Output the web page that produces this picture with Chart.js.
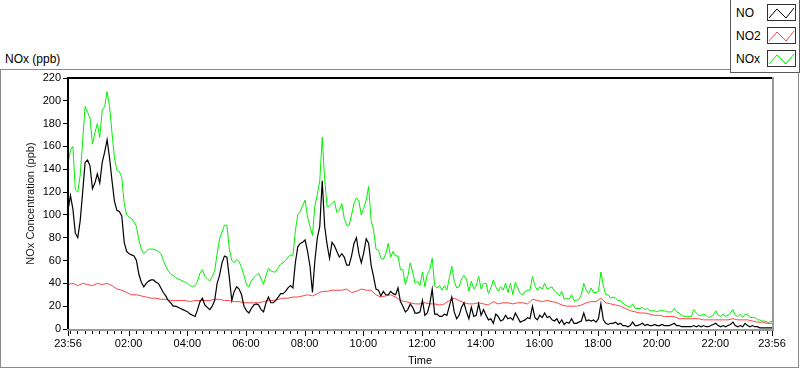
<!DOCTYPE html>
<html>
<head>
<meta charset="utf-8">
<title>NOx (ppb)</title>
<script src="https://cdn.jsdelivr.net/npm/chart.js@4"></script>
<style>
  html, body { margin: 0; padding: 0; background: #fff; }
  body { position: relative; width: 800px; height: 369px; overflow: hidden;
         font-family: "Liberation Sans", Arial, sans-serif; color: #000; }
  #panel { position: absolute; left: 0; top: 69px; width: 799px; height: 299px;
           box-sizing: border-box; border: 1px solid #8a8a8a; }
  #chart { position: absolute; left: 0; top: 0; }
  #plotTitle { position: absolute; left: 5px; top: 52px; font-size: 12px; line-height: 14px; }
  #legend { position: absolute; left: 730px; top: -1px; width: 70px; height: 74px;
            box-sizing: border-box; border: 1px solid #5a5a5a; background: #fff; }
  .row { position: absolute; left: 5px; font-size: 12px; line-height: 14px; }
  .icon { position: absolute; left: 36px; width: 29px; height: 17px; box-sizing: border-box;
          border: 1px solid #333; background: #fff; }
  .icon svg { display: block; }
</style>
</head>
<body>
<div id="panel"></div>
<div id="plotTitle">NOx (ppb)</div>
<canvas id="chart" width="800" height="369"></canvas>
<div id="legend"></div>

<script>
// Time axis is in minutes after 23:56
const START_LABEL = '23:56';
const NO_STEP_MIN = 5;     // NO and NOx read every 5 minutes
const NO2_STEP_MIN = 10;   // NO2 is smooth, read every 10 minutes

// NO (ppb), every 5 min
const noValues = [
  104,117,105,84,80,95,120,146,148,143,
  123,128,136,128,146,155,166,150,130,112,
  104,103,99,76,68,66,65,64,60,48,
  41,37,40,42,43,43,41,40,36,32,
  29,25,23,20,20,19,18,17,16,15,
  13,12,11,17,24,27,21,19,17,20,
  25,40,47,58,64,63,45,25,33,37,
  35,30,20,16,14,18,21,22,21,17,
  15,23,28,23,23,25,28,31,31,33,
  36,38,36,58,72,75,76,78,68,55,
  32,60,80,90,130,90,74,62,76,73,
  68,63,66,63,56,56,64,75,80,66,
  58,67,79,75,56,46,35,34,29,33,
  30,30,33,31,30,36,24,20,15,17,
  22,19,14,14,15,25,12,14,22,35,
  13,13,11,11,13,12,20,28,15,9,
  12,19,23,15,9,19,11,12,22,12,
  17,12,8,9,5,13,11,7,8,12,
  9,10,8,14,10,6,7,8,10,9,
  20,10,8,12,10,14,10,11,8,7,
  9,5,8,4,6,5,9,5,5,6,
  7,14,7,8,7,8,6,9,22,8,
  5,4,5,5,6,4,5,3,3,2,
  3,6,3,3,4,5,3,4,3,3,
  4,3,3,4,3,3,3,4,5,3,
  3,2,2,2,2,2,3,2,3,2,
  3,2,2,3,4,5,3,2,3,2,
  3,4,6,3,2,3,2,5,3,2,
  3,2,2,1,1,1,1,1,1
];

// NO2 (ppb), every 10 min
const no2Values = [
  39,40,38,40,39,38,40,39,40,38,35,34,32,30,30,29,28,27,27,26,26,25,25,25,25,24,25,25,25,25,
  26,26,25,25,24,24,23,23,23,23,24,25,25,26,27,27,28,28,29,30,29,31,33,33,34,34,34,35,
  32,33,35,34,34,30,28,29,30,28,25,24,23,22,22,23,22,22,21,22,25,27,25,23,22,22,23,22,21,
  24,22,23,23,22,23,23,22,26,25,24,25,24,23,21,20,20,20,21,23,24,24,27,23,22,21,20,18,16,
  15,14,14,13,12,12,11,11,11,9,9,9,9,9,8,8,8,8,8,8,9,8,8,8,7,6,6,5,5
];

// NOx (ppb), every 5 min
const noxValues = [
  145,157,160,122,120,135,165,195,190,185,
  162,172,180,168,192,195,208,195,172,150,
  139,138,133,110,100,98,97,94,90,78,
  70,66,68,70,70,70,69,68,66,60,
  55,51,48,47,45,44,43,42,41,40,
  38,37,38,42,49,52,46,44,42,46,
  51,66,79,85,91,91,70,60,58,61,
  59,54,47,39,37,42,45,47,49,44,
  39,47,53,51,50,50,54,57,58,60,
  63,65,64,86,100,103,108,113,98,90,
  82,108,118,130,168,131,107,108,110,112,
  102,104,110,97,91,91,100,110,115,112,
  100,106,113,125,95,87,70,69,62,61,
  66,75,63,68,64,64,52,52,39,46,
  58,50,40,42,38,50,37,48,52,62,
  38,36,38,34,38,34,45,55,42,36,
  37,44,47,44,33,42,35,38,46,35,
  40,40,31,36,43,37,33,37,34,40,
  32,40,30,41,36,31,30,33,34,34,
  46,38,34,37,35,40,35,36,37,33,
  32,29,33,26,27,26,30,25,25,26,
  30,40,34,31,36,32,32,33,50,38,
  30,30,27,28,27,25,25,23,21,20,
  19,22,18,18,18,19,17,18,16,16,
  16,15,16,16,16,15,15,15,18,15,
  14,12,11,11,11,11,17,14,12,12,
  13,12,10,11,12,16,12,11,13,11,
  12,14,17,12,11,13,10,13,13,10,
  10,10,8,8,7,7,6,6,7
];

// Major x ticks (minutes after 23:56) and their labels
const majorTickMinutes = [0, 124, 244, 364, 484, 604, 724, 844, 964, 1084, 1204, 1324, 1440];
const majorTickLabels = ['23:56', '02:00', '04:00', '06:00', '08:00', '10:00', '12:00',
                         '14:00', '16:00', '18:00', '20:00', '22:00', '23:56'];
const MINOR_STEP = 15;   // minor ticks every quarter hour from 00:00
const FIRST_MINOR = 4;

const yTickStep = 20;
const Y_MAX = 220;

const series = [
  { label: 'NO',  values: noValues,  step: NO_STEP_MIN,  color: '#000000', width: 1.2 },
  { label: 'NO2', values: no2Values, step: NO2_STEP_MIN, color: '#ff4444', width: 1 },
  { label: 'NOx', values: noxValues, step: NO_STEP_MIN,  color: '#00f000', width: 1 }
];

const AXIS_FONT = { family: '"Liberation Sans", Arial, sans-serif', size: 11 };

/**
 * Build the HTML legend in the top-right corner
 */
function buildLegend() {
  const legend = document.getElementById('legend');
  const rowTops = [6, 29, 52];
  const iconTops = [4, 27, 50];
  series.forEach((s, i) => {
    const row = document.createElement('div');
    row.className = 'row';
    row.style.top = rowTops[i] + 'px';
    row.textContent = s.label;
    legend.appendChild(row);

    const icon = document.createElement('div');
    icon.className = 'icon';
    icon.style.top = iconTops[i] + 'px';
    icon.innerHTML = '<svg width="27" height="15"><polyline points="1,13 9,4 18,13 26,3" ' +
      'fill="none" stroke="' + s.color + '" stroke-width="1"/></svg>';
    legend.appendChild(icon);
  });
}

// Plot frame (LabVIEW style) and x-axis tick marks
const framePlugin = {
  id: 'frame',
  afterDatasetsDraw(chart) {
    const { ctx, chartArea: a, scales: { x } } = chart;
    ctx.save();
    ctx.fillStyle = '#000';
    ctx.fillRect(a.left - 1, a.top - 1, a.right - a.left + 1, 2);
    ctx.fillRect(a.left - 1, a.top - 1, 2, a.bottom - a.top + 2);
    ctx.fillStyle = '#9a9a9a';
    ctx.fillRect(a.right, a.top - 1, 2, a.bottom - a.top + 3);
    ctx.fillRect(a.left - 1, a.bottom, a.right - a.left + 3, 2);

    ctx.fillStyle = '#000';
    for (let m = FIRST_MINOR; m < x.max; m += MINOR_STEP) {
      const px = Math.round(x.getPixelForValue(m));
      ctx.fillRect(px, a.bottom + 2, 1, 3);
    }
    majorTickMinutes.forEach(m => {
      const px = Math.round(x.getPixelForValue(m));
      ctx.fillRect(Math.min(px, a.right), a.bottom + 2, 1, 5);
    });
    ctx.restore();
  }
};

function initChart() {
  buildLegend();

  const ctx = document.getElementById('chart').getContext('2d');
  const datasets = series.map((s, i) => ({
    label: s.label,
    data: s.values.map((v, k) => ({ x: k * s.step, y: v })),
    borderColor: s.color,
    backgroundColor: s.color,
    borderWidth: s.width,
    pointRadius: 0,
    tension: 0,
    fill: false,
    order: i + 1
  }));

  new Chart(ctx, {
    type: 'line',
    data: { datasets: datasets },
    options: {
      responsive: false,
      animation: false,
      devicePixelRatio: 1,
      layout: { padding: { left: 0, top: 78, right: 28, bottom: 0 } },
      plugins: { legend: { display: false }, tooltip: { enabled: false } },
      scales: {
        x: {
          type: 'linear',
          min: 0,
          max: majorTickMinutes[majorTickMinutes.length - 1],
          afterBuildTicks: scale => {
            scale.ticks = majorTickMinutes.map(v => ({ value: v }));
          },
          afterFit: scale => { scale.height = 40; },
          ticks: {
            autoSkip: false,
            maxRotation: 0,
            padding: 8,
            color: '#000',
            font: AXIS_FONT,
            callback: value => {
              const idx = majorTickMinutes.indexOf(value);
              return idx >= 0 ? majorTickLabels[idx] : '';
            }
          },
          grid: { display: false, drawTicks: false, tickLength: 0 },
          border: { display: false },
          title: {
            display: true,
            text: 'Time',
            color: '#000',
            font: AXIS_FONT,
            padding: { top: 0, bottom: 1 }
          }
        },
        y: {
          min: 0,
          max: Y_MAX,
          afterFit: scale => { scale.width = 68; },
          ticks: {
            stepSize: yTickStep,
            padding: 2,
            color: '#000',
            font: AXIS_FONT
          },
          grid: { display: true, drawOnChartArea: false, drawTicks: true, tickLength: 5, color: '#000' },
          border: { display: false },
          title: {
            display: true,
            text: 'NOx Concentration (ppb)',
            color: '#1a1a1a',
            font: AXIS_FONT,
            padding: { top: 24, bottom: 0 }
          }
        }
      }
    },
    plugins: [framePlugin]
  });
}

document.addEventListener('DOMContentLoaded', initChart);
</script>
</body>
</html>
